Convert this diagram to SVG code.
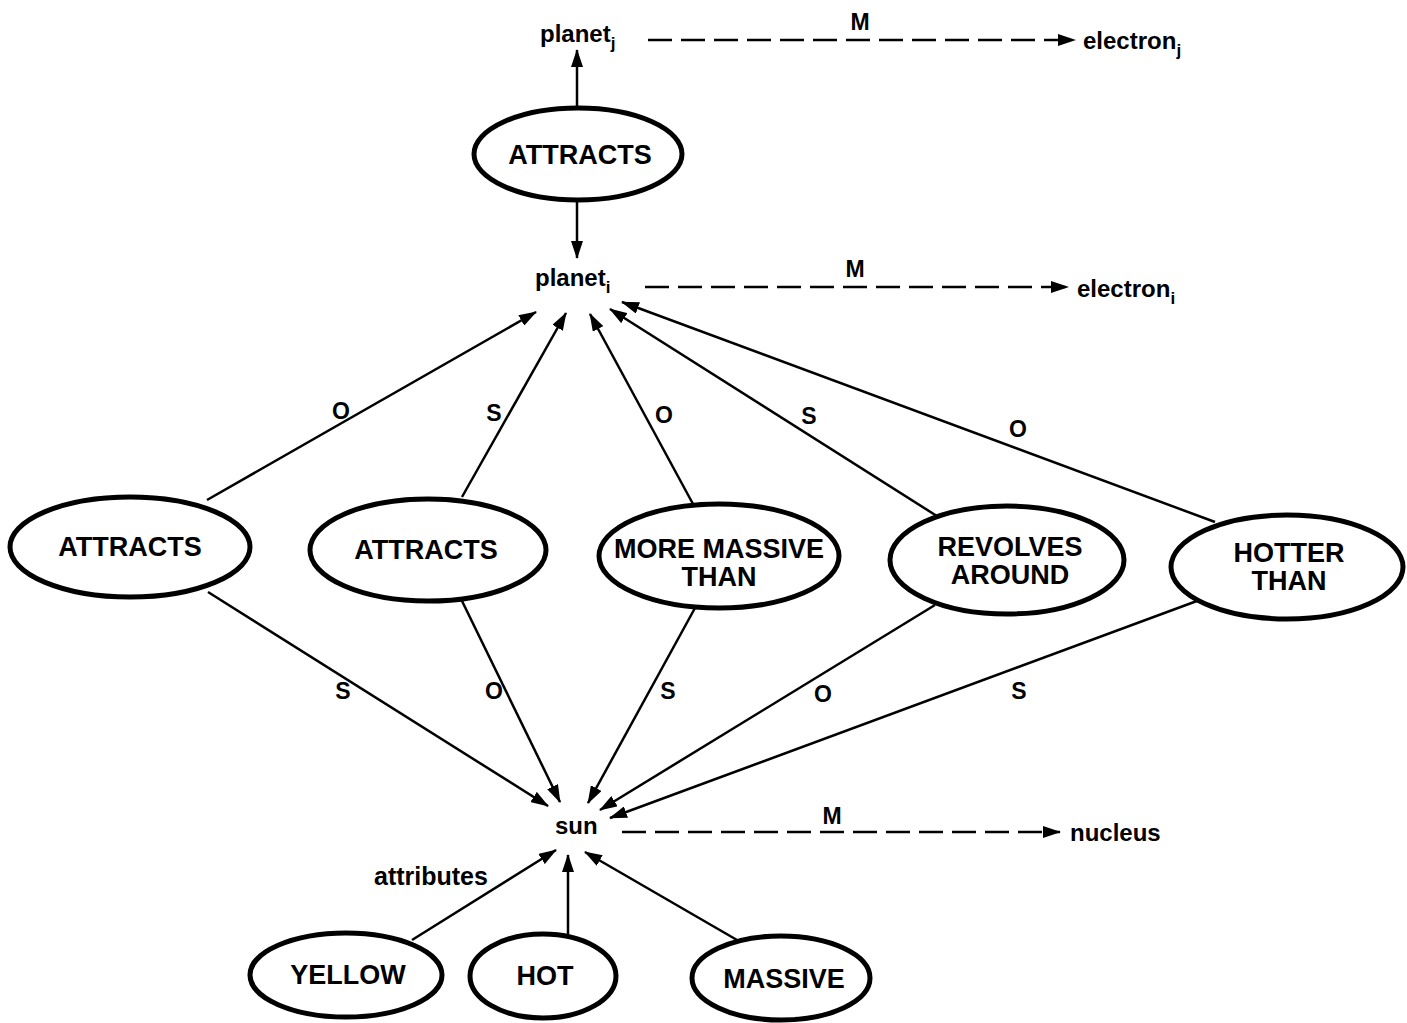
<svg xmlns="http://www.w3.org/2000/svg" width="1407" height="1023" viewBox="0 0 1407 1023">
<style>
.node ellipse{fill:#fff;stroke:#000;stroke-width:5}
.t{font-family:"Liberation Sans",Arial,sans-serif;font-weight:bold;font-size:27px;text-anchor:middle;fill:#000}
.w{font-family:"Liberation Sans",Arial,sans-serif;font-weight:bold;font-size:24px;fill:#000}
.sub{font-size:17px}
.lab{font-family:"Liberation Sans",Arial,sans-serif;font-weight:bold;font-size:23px;text-anchor:middle;fill:#000}
.e{stroke:#000;stroke-width:2.5;fill:none;marker-end:url(#ah)}
.d{stroke:#000;stroke-width:2.5;fill:none;stroke-dasharray:24 9;marker-end:url(#ah)}
</style>
<defs>
<marker id="ah" markerUnits="userSpaceOnUse" markerWidth="18" markerHeight="12" refX="17" refY="6" orient="auto">
<path d="M0,0 L18,6 L0,12 z" fill="#000"/>
</marker>
</defs>
<rect width="1407" height="1023" fill="#fff"/>
<g id="connectors">
<line class="e" x1="577" y1="106" x2="577" y2="50"/>
<line class="e" x1="577" y1="201" x2="577" y2="258"/>
<line class="d" x1="648" y1="40" x2="1075" y2="40"/>
<line class="d" x1="645" y1="287" x2="1068" y2="287"/>
<line class="d" x1="622" y1="832" x2="1060" y2="832"/>
<line class="e" x1="207" y1="500" x2="536" y2="312"/>
<line class="e" x1="462" y1="497" x2="566" y2="313"/>
<line class="e" x1="693" y1="504" x2="590" y2="314"/>
<line class="e" x1="940" y1="518" x2="610" y2="309"/>
<line class="e" x1="1215" y1="522" x2="622" y2="302"/>
<line class="e" x1="208" y1="592" x2="548" y2="806"/>
<line class="e" x1="462" y1="601" x2="560" y2="802"/>
<line class="e" x1="695" y1="608" x2="588" y2="803"/>
<line class="e" x1="935" y1="605" x2="600" y2="810"/>
<line class="e" x1="1205" y1="598" x2="610" y2="818"/>
<line class="e" x1="412" y1="940" x2="556" y2="850"/>
<line class="e" x1="568" y1="935" x2="568" y2="855"/>
<line class="e" x1="737" y1="940" x2="585" y2="852"/>
<text class="lab" x="860" y="30">M</text>
<text class="lab" x="855" y="277">M</text>
<text class="lab" x="832" y="824">M</text>
<text class="lab" x="341" y="419">O</text>
<text class="lab" x="494" y="421">S</text>
<text class="lab" x="664" y="423">O</text>
<text class="lab" x="809" y="424">S</text>
<text class="lab" x="1018" y="437">O</text>
<text class="lab" x="343" y="699">S</text>
<text class="lab" x="494" y="699">O</text>
<text class="lab" x="668" y="699">S</text>
<text class="lab" x="823" y="702">O</text>
<text class="lab" x="1019" y="699">S</text>
<text class="w" x="374" y="885" style="font-size:25px">attributes</text>
</g>
<g id="planet_j"><text class="w" x="540" y="42">planet<tspan class="sub" dy="7">j</tspan></text></g>
<g id="electron_j"><text class="w" x="1083" y="49">electron<tspan class="sub" dy="7">j</tspan></text></g>
<g id="planet_i"><text class="w" x="535" y="286">planet<tspan class="sub" dy="7">i</tspan></text></g>
<g id="electron_i"><text class="w" x="1077" y="297">electron<tspan class="sub" dy="7">i</tspan></text></g>
<g id="sun"><text class="w" x="555" y="834">sun</text></g>
<g id="nucleus"><text class="w" x="1070" y="841">nucleus</text></g>
<g id="attracts_top" class="node"><ellipse cx="578" cy="154" rx="104" ry="46"/><text class="t" x="580" y="164">ATTRACTS</text></g>
<g id="attracts1" class="node"><ellipse cx="130" cy="547" rx="120" ry="50"/><text class="t" x="130" y="556">ATTRACTS</text></g>
<g id="attracts2" class="node"><ellipse cx="428" cy="550" rx="118" ry="51"/><text class="t" x="426" y="559">ATTRACTS</text></g>
<g id="more_massive" class="node"><ellipse cx="719" cy="556" rx="120" ry="52"/><text class="t" x="719" y="558">MORE MASSIVE</text><text class="t" x="719" y="586">THAN</text></g>
<g id="revolves" class="node"><ellipse cx="1007" cy="560" rx="117" ry="54"/><text class="t" x="1010" y="556">REVOLVES</text><text class="t" x="1010" y="584">AROUND</text></g>
<g id="hotter" class="node"><ellipse cx="1287" cy="567" rx="116" ry="52"/><text class="t" x="1289" y="562">HOTTER</text><text class="t" x="1289" y="590">THAN</text></g>
<g id="yellow" class="node"><ellipse cx="346" cy="975" rx="96" ry="42"/><text class="t" x="348" y="984">YELLOW</text></g>
<g id="hot" class="node"><ellipse cx="543" cy="976" rx="73" ry="42"/><text class="t" x="545" y="985">HOT</text></g>
<g id="massive" class="node"><ellipse cx="781" cy="978" rx="89" ry="42"/><text class="t" x="784" y="988">MASSIVE</text></g>
</svg>
